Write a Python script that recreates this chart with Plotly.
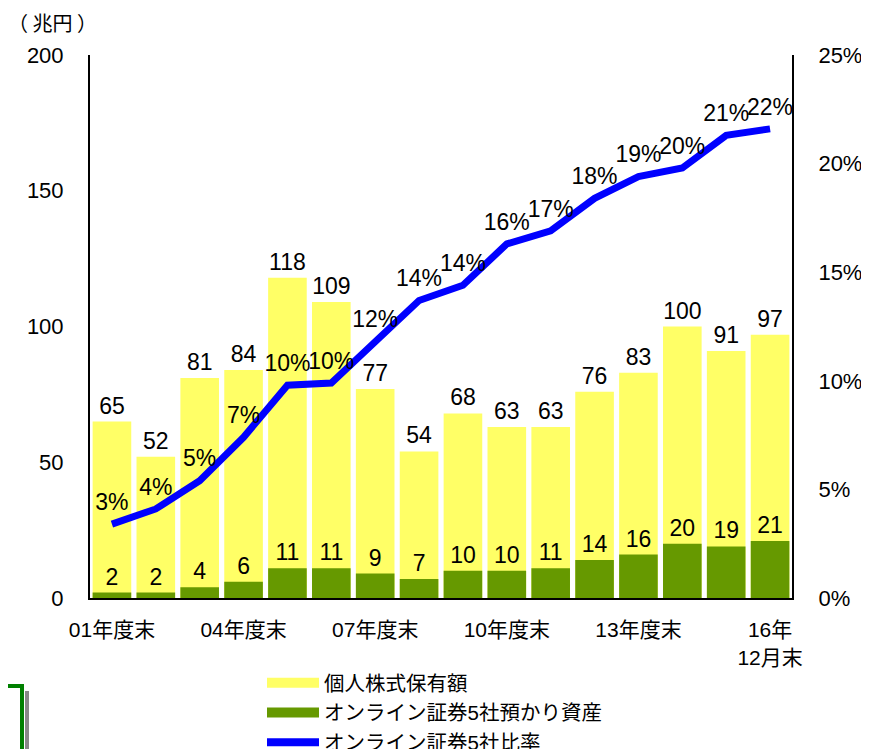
import plotly.graph_objects as go

categories = ["01年度末", "02年度末", "03年度末", "04年度末", "05年度末", "06年度末",
              "07年度末", "08年度末", "09年度末", "10年度末", "11年度末", "12年度末",
              "13年度末", "14年度末", "15年度末", "16年12月末"]
individual_holdings = [65, 52, 81, 84, 118, 109, 77, 54, 68, 63, 63, 76, 83, 100, 91, 97]
online_assets = [2, 2, 4, 6, 11, 11, 9, 7, 10, 10, 11, 14, 16, 20, 19, 21]
online_ratio = [3.4, 4.1, 5.4, 7.4, 9.8, 9.9, 11.8, 13.7, 14.4, 16.3, 16.9, 18.4, 19.4, 19.8, 21.3, 21.6]
tick_cats = ["01年度末", "04年度末", "07年度末", "10年度末", "13年度末", "16年12月末"]
tick_text = ["01年度末", "04年度末", "07年度末", "10年度末", "13年度末", "16年<br>12月末"]
right_ticks = [0, 5, 10, 15, 20, 25]
right_text = ["0%", "5%", "10%", "15%", "20%", "25%"]

FONT = "Arial, 'Liberation Sans', 'Noto Sans CJK JP', sans-serif"
YELLOW = "#FFFF66"
GREEN = "#669900"
BLUE = "#0000FF"

fig = go.Figure()
fig.add_trace(go.Bar(
    x=categories, y=individual_holdings, name="個人株式保有額", showlegend=False,
    marker=dict(color=YELLOW, line=dict(width=0)),
    text=individual_holdings, textposition="outside", cliponaxis=False,
    textfont=dict(size=23, color="black", family=FONT),
))
fig.add_trace(go.Bar(
    x=categories, y=online_assets, name="オンライン証券5社預かり資産", showlegend=False,
    marker=dict(color=GREEN, line=dict(width=0)),
    text=online_assets, textposition="outside", cliponaxis=False,
    textfont=dict(size=23, color="black", family=FONT),
))
fig.add_trace(go.Scatter(
    x=categories, y=online_ratio, name="オンライン証券5社比率", yaxis="y2",
    mode="lines+markers+text", line=dict(color=BLUE, width=7),
    marker=dict(size=12, color="rgba(0,0,0,0)"),
    texttemplate="%{y:.0f}%", textposition="top center", cliponaxis=False,
    textfont=dict(size=23, color="black", family=FONT), showlegend=False,
))
# legend entries
fig.add_trace(go.Scatter(x=[None], y=[None], mode="lines", name="個人株式保有額",
                         line=dict(color=YELLOW, width=13)))
fig.add_trace(go.Scatter(x=[None], y=[None], mode="lines", name="オンライン証券5社預かり資産",
                         line=dict(color=GREEN, width=13)))
fig.add_trace(go.Scatter(x=[None], y=[None], mode="lines", name="オンライン証券5社比率",
                         line=dict(color=BLUE, width=8)))

# page geometry (page has 8px body offset)
OFF = 8
PL, PR, PT, PB = 90, 792, 55, 598
W, H = 861, 741

def px(x):
    return (x - PL) / (PR - PL)

def py(y):
    return (PB - y) / (PB - PT)

fig.update_layout(
    width=W, height=H,
    margin=dict(l=PL - OFF, r=W + OFF - PR, t=PT - OFF, b=H + OFF - PB, autoexpand=False),
    paper_bgcolor="white", plot_bgcolor="white",
    barmode="overlay", bargap=0.12,
    font=dict(family=FONT, size=22, color="black"),
    showlegend=True,
    legend=dict(x=px(262), y=py(663), xanchor="left", yanchor="top",
                orientation="v", font=dict(size=20.5), tracegroupgap=0,
                itemwidth=52, bgcolor="rgba(0,0,0,0)"),
    xaxis=dict(type="category", tickmode="array", tickvals=tick_cats, ticktext=tick_text,
               range=[-0.5, len(categories) - 0.5],
               showline=True, linecolor="black", linewidth=2, ticks="",
               showgrid=False, tickangle=0, ticklabelstandoff=12,
               tickfont=dict(size=21)),
    yaxis=dict(range=[0, 200], tickvals=[0, 50, 100, 150, 200], showgrid=False,
               showline=True, linecolor="black", linewidth=2, ticks="",
               ticklabelstandoff=20, zeroline=False, tickfont=dict(size=22)),
    yaxis2=dict(range=[0, 25], tickmode="array", tickvals=right_ticks, ticktext=right_text,
                overlaying="y", side="right", showgrid=False,
                showline=True, linecolor="black", linewidth=2, ticks="",
                ticklabelstandoff=20, zeroline=False, tickfont=dict(size=22)),
    annotations=[dict(text="（ 兆円 ）", xref="paper", yref="paper",
                      x=px(6), y=py(23), xanchor="left", yanchor="middle",
                      showarrow=False,
                      font=dict(size=20, family="'Noto Sans CJK JP', sans-serif"))],
    shapes=[
        dict(type="line", xref="paper", yref="paper", x0=px(27), x1=px(27),
             y0=py(691), y1=py(760), line=dict(color="#888888", width=4)),
        dict(type="line", xref="paper", yref="paper", x0=px(0), x1=px(24),
             y0=py(686), y1=py(686), line=dict(color="#008000", width=4)),
        dict(type="line", xref="paper", yref="paper", x0=px(22), x1=px(22),
             y0=py(684), y1=py(760), line=dict(color="#008000", width=4)),
    ],
)

fig.write_html("out.html")
